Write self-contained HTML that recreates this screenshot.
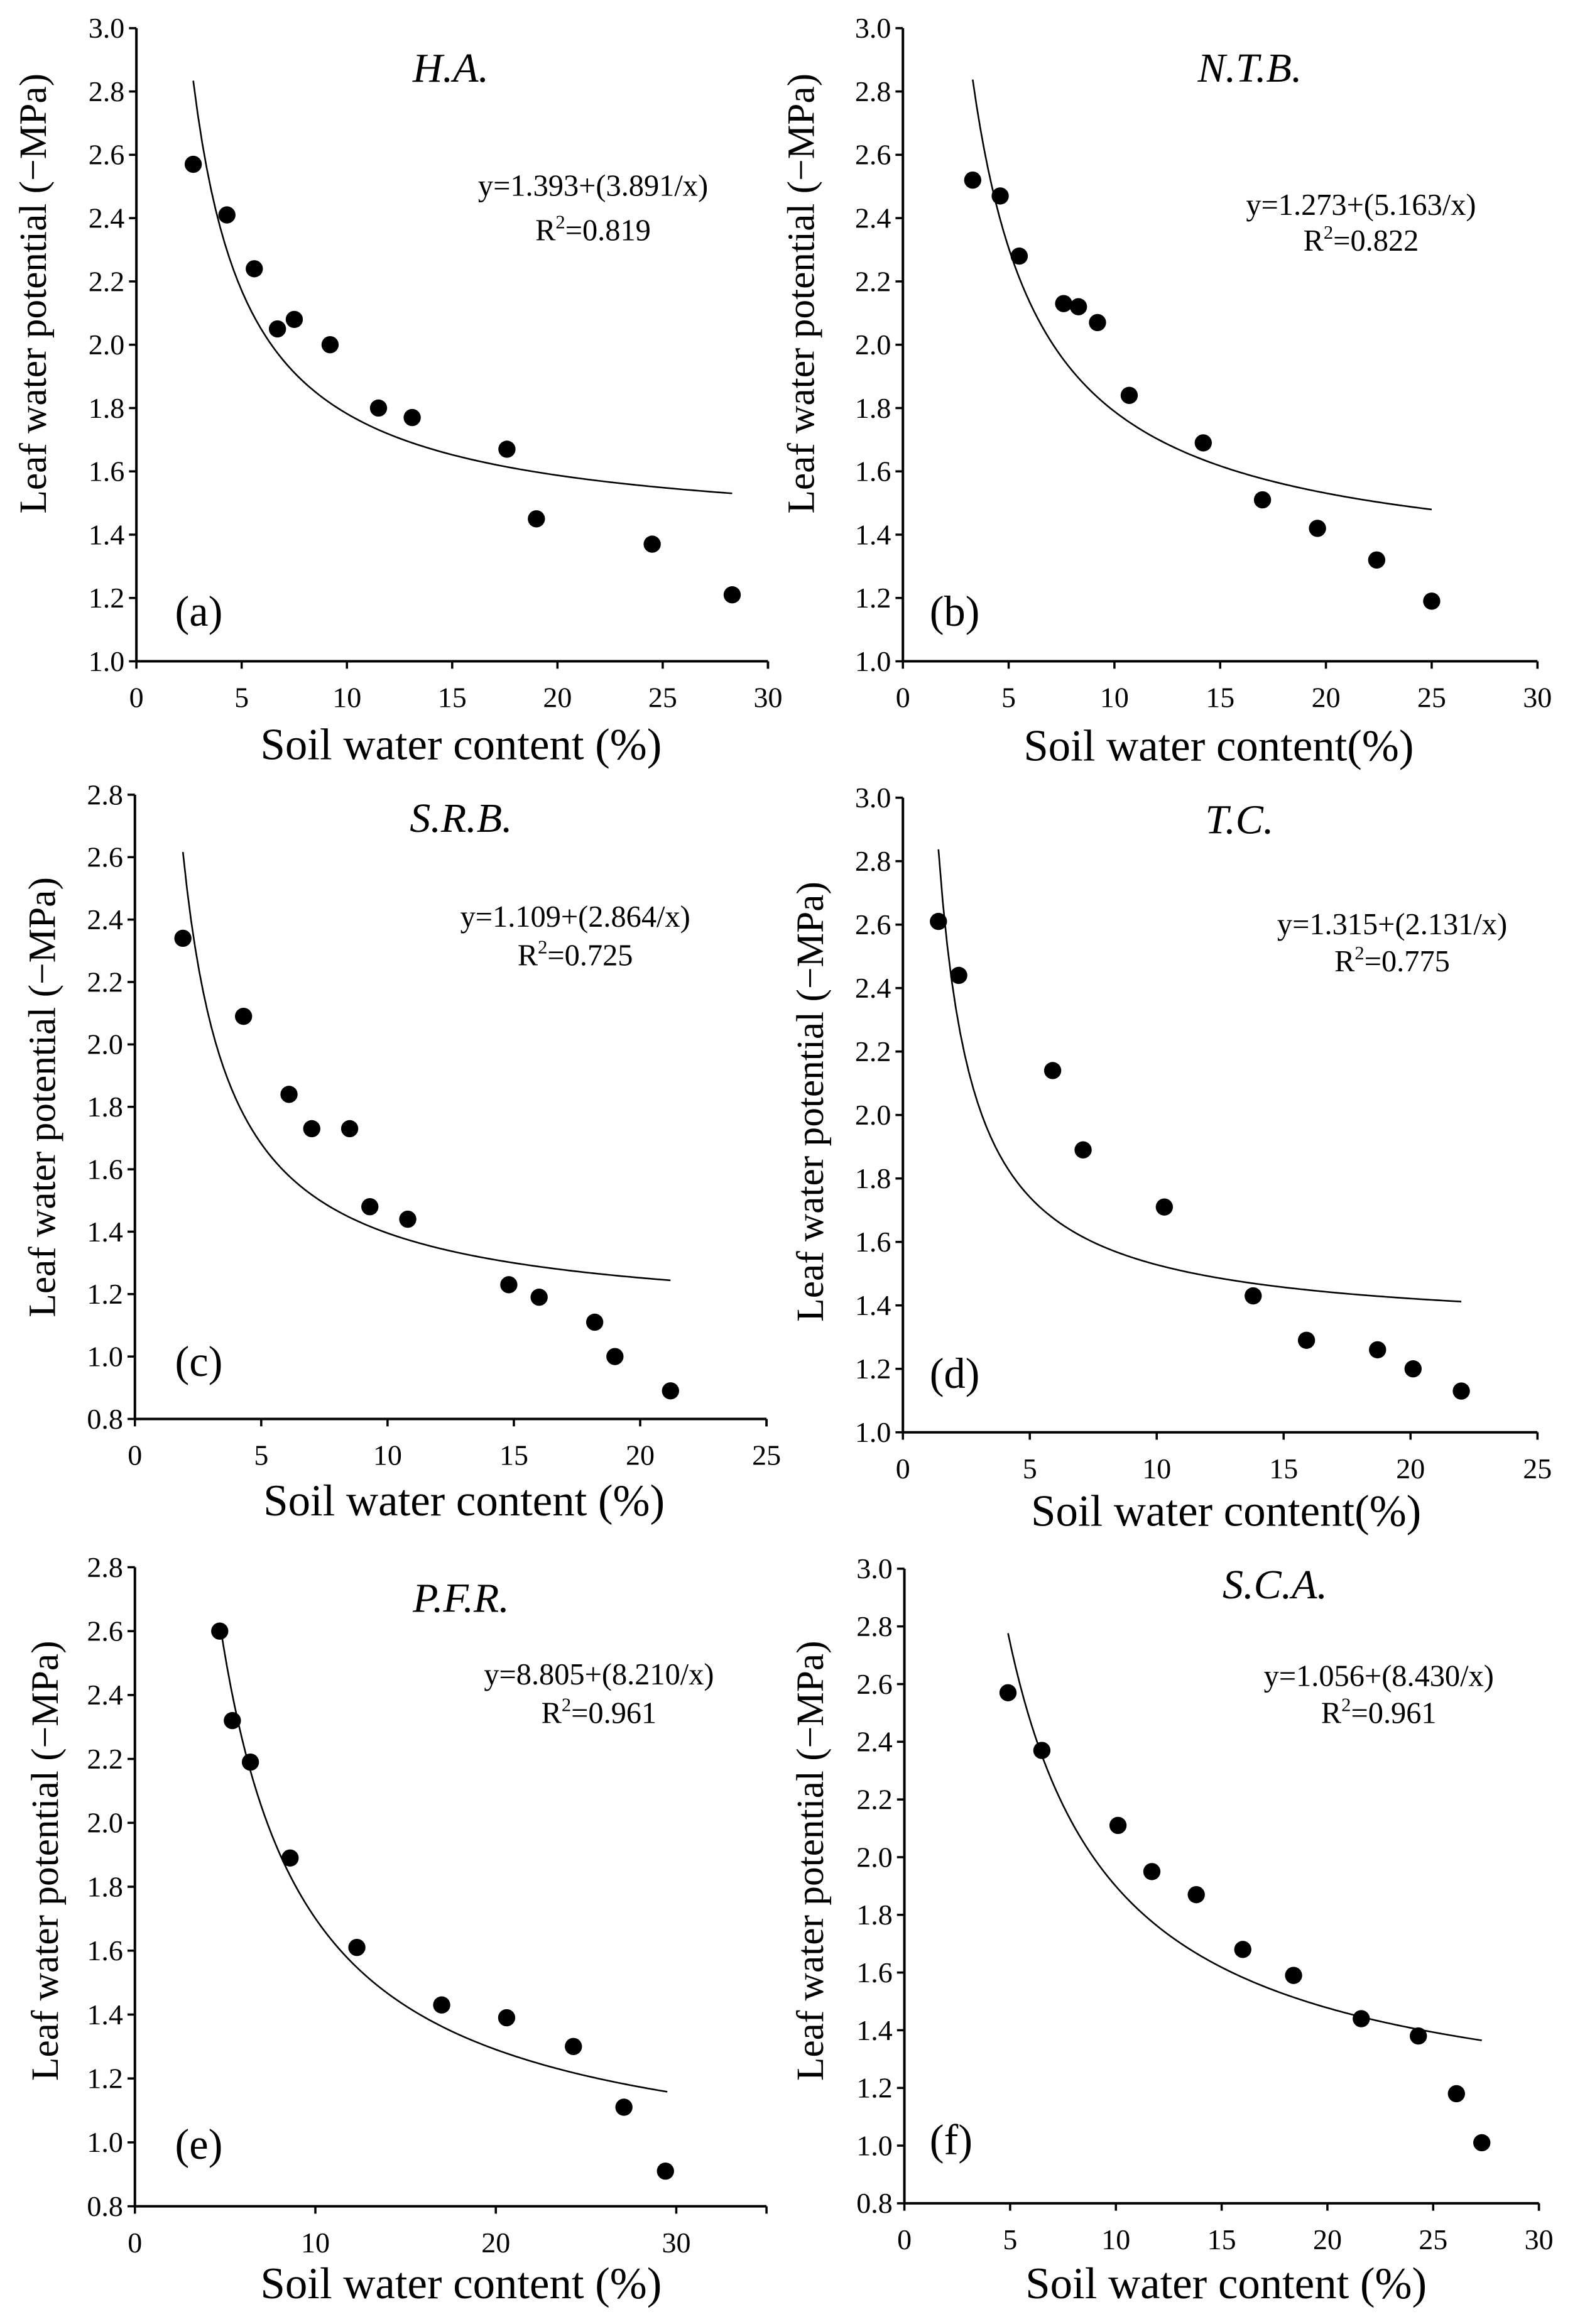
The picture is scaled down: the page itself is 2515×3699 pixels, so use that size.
<!DOCTYPE html>
<html><head><meta charset="utf-8"><style>
html,body{margin:0;padding:0;background:#fff}
svg{display:block}
text{font-family:"Liberation Serif","DejaVu Serif",serif;fill:#000}
</style></head><body>
<svg id="fig" width="2515" height="3699" viewBox="0 0 1065.7 1567.4" xmlns="http://www.w3.org/2000/svg" font-family="Liberation Serif, serif">
<rect width="1065.7" height="1567.4" fill="#fff"/>
</svg>
<script>
// ---- data ----
const panelIds = ['a','b','c','d','e','f'];
const panelTitles = ['H.A.','N.T.B.','S.R.B.','T.C.','P.F.R.','S.C.A.'];
const equations = ['y=1.393+(3.891/x)','y=1.273+(5.163/x)','y=1.109+(2.864/x)','y=1.315+(2.131/x)','y=8.805+(8.210/x)','y=1.056+(8.430/x)'];
const r2Values = ['0.819','0.822','0.725','0.775','0.961','0.961'];
const fitA = [1.393,1.273,1.109,1.315,0.88,1.056];
const fitB = [3.891,5.163,2.864,2.131,8.21,8.430];
const fitStart = [2.7,3.3,1.9,1.4,4.7,4.9];
const fitEnd = [28.3,25.0,21.2,22.0,29.5,27.3];
const xMax = [30,30,25,25,35,30];
const xStep = [5,5,5,5,10,5];
const yMin = [1.0,1.0,0.8,1.0,0.8,0.8];
const yMax = [3.0,3.0,2.8,3.0,2.8,3.0];
const xTitles = ['Soil water content (%)','Soil water content(%)','Soil water content (%)','Soil water content(%)','Soil water content (%)','Soil water content (%)'];
const xsA = [2.7,4.3,5.6,6.7,7.5,9.2,11.5,13.1,17.6,19.0,24.5,28.3];
const ysA = [2.57,2.41,2.24,2.05,2.08,2.00,1.80,1.77,1.67,1.45,1.37,1.21];
const xsB = [3.3,4.6,5.5,7.6,8.3,9.2,10.7,14.2,17.0,19.6,22.4,25.0];
const ysB = [2.52,2.47,2.28,2.13,2.12,2.07,1.84,1.69,1.51,1.42,1.32,1.19];
const xsC = [1.9,4.3,6.1,7.0,8.5,9.3,10.8,14.8,16.0,18.2,19.0,21.2];
const ysC = [2.34,2.09,1.84,1.73,1.73,1.48,1.44,1.23,1.19,1.11,1.00,0.89];
const xsD = [1.4,2.2,5.9,7.1,10.3,13.8,15.9,18.7,20.1,22.0];
const ysD = [2.61,2.44,2.14,1.89,1.71,1.43,1.29,1.26,1.20,1.13];
const xsE = [4.7,5.4,6.4,8.6,12.3,17.0,20.6,24.3,27.1,29.4];
const ysE = [2.60,2.32,2.19,1.89,1.61,1.43,1.39,1.30,1.11,0.91];
const xsF = [4.9,6.5,10.1,11.7,13.8,16.0,18.4,21.6,24.3,26.1,27.3];
const ysF = [2.57,2.37,2.11,1.95,1.87,1.68,1.59,1.44,1.38,1.18,1.01];
const allXs = [xsA,xsB,xsC,xsD,xsE,xsF];
const allYs = [ysA,ysB,ysC,ysD,ysE,ysF];

// ---- layout (display units) ----
const boxes = [[92,518,19,446],[609,1037,19,446],[91,517,536,957],[609,1037,538,966],[91,517,1057,1488],[610,1038,1058,1486]];
const titlePos = [[304,45],[843,45],[311,551],[836,552],[311,1077],[860,1068]];
const eqPos = [[400,125,155],[918,138,162],[388,618,644],[939,623,648],[404,1129,1155],[930,1130,1155]];
const labPos = [[118,412],[627,412],[118,918],[627,926],[118,1446],[627,1443]];
const xtPos = [[311,502],[822,503],[313,1012],[827,1019],[311,1540],[827,1540]];
const ytPos = [[22,198],[540,198],[28,740],[546,743],[30,1255],[546,1255]];

const NS='http://www.w3.org/2000/svg';
const svg=document.getElementById('fig');
function mk(tag,attrs,parent){const e=document.createElementNS(NS,tag);for(const k in attrs)e.setAttribute(k,attrs[k]);(parent||svg).appendChild(e);return e;}
const FF='Liberation Serif, DejaVu Serif, serif';

panelIds.forEach((id,i)=>{
  const [L,R,T,B]=boxes[i];
  const g=mk('g',{'font-family':FF});
  
  
  const sx=v=>L+(v/xMax[i])*(R-L);
  const sy=v=>B-(v-yMin[i])/(yMax[i]-yMin[i])*(B-T);
  const ax=mk('path',{d:`M${L},${T} L${L},${B} L${R},${B}`,fill:'none',stroke:'#000','stroke-width':1.7},g);
  
  
  const nY=Math.round((yMax[i]-yMin[i])/0.2);
  for(let k=0;k<=nY;k++){
    const v=yMin[i]+k*0.2, y=sy(v);
    mk('line',{x1:L-5,y1:y,x2:L,y2:y,stroke:'#000','stroke-width':1.5},g);
    const t=mk('text',{x:L-8,y:y+6.5,'text-anchor':'end','font-size':19.5,'font-family':FF},g);
    
    
    t.textContent=v.toFixed(1);
  }
  for(let v=0;v<=xMax[i]+1e-9;v+=xStep[i]){
    const x=sx(v);
    mk('line',{x1:x,y1:B,x2:x,y2:B+5,stroke:'#000','stroke-width':1.5},g);
    const t=mk('text',{x:x,y:B+31,'text-anchor':'middle','font-size':19.5,'font-family':FF},g);
    
    
    t.textContent=String(v);
  }
  mk('line',{x1:R,y1:B,x2:R,y2:B+5,stroke:'#000','stroke-width':1.5},g);
  let d='';
  const n=120;
  for(let k=0;k<=n;k++){
    const xv=fitStart[i]+(fitEnd[i]-fitStart[i])*k/n;
    const yv=fitA[i]+fitB[i]/xv;
    d+=(k?'L':'M')+sx(xv).toFixed(2)+','+sy(yv).toFixed(2);
  }
  const c=mk('path',{d:d,fill:'none',stroke:'#000','stroke-width':1.1},g);
  
  
  allXs[i].forEach((xv,j)=>{
    const p=mk('circle',{cx:sx(xv),cy:sy(allYs[i][j]),r:5.8,fill:'#000'},g);
    
    
  });
  const tt=mk('text',{x:titlePos[i][0],y:titlePos[i][1]+10,'text-anchor':'middle','font-size':28,'font-style':'italic','font-family':FF},g);
  
  
  tt.textContent=panelTitles[i];
  const eq=mk('text',{x:eqPos[i][0],y:eqPos[i][1]+7,'text-anchor':'middle','font-size':20.5,'font-family':FF},g);
  
  
  eq.textContent=equations[i];
  const r2=mk('text',{x:eqPos[i][0],y:eqPos[i][2]+7,'text-anchor':'middle','font-size':20.5,'font-family':FF},g);
  
  
  r2.appendChild(document.createTextNode('R'));
  const sup=mk('tspan',{'font-size':13,dy:-8},r2); sup.textContent='2';
  const rest=mk('tspan',{dy:8},r2); rest.textContent='='+r2Values[i];
  const lb=mk('text',{x:labPos[i][0],y:labPos[i][1]+10,'font-size':29,'font-family':FF},g);
  
  
  lb.textContent='('+id+')';
  const xt=mk('text',{x:xtPos[i][0],y:xtPos[i][1]+10,'text-anchor':'middle','font-size':30,'font-family':FF},g);
  
  
  xt.textContent=xTitles[i];
  const yt=mk('text',{x:0,y:0,'text-anchor':'middle','font-size':26,'font-family':FF,transform:`translate(${ytPos[i][0]+9},${ytPos[i][1]}) rotate(-90)`},g);
  
  
  yt.textContent='Leaf water potential (\u2212MPa)';
});
</script>
</body></html>
